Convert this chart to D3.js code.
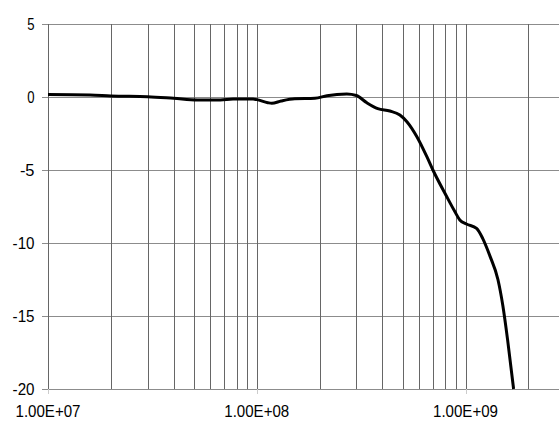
<!DOCTYPE html>
<html>
<head>
<meta charset="utf-8">
<script src="https://cdn.jsdelivr.net/npm/d3@7"></script>
<style>
  html, body { margin: 0; padding: 0; background: #fff; }
  svg { display: block; }
  text { font-family: "Liberation Sans", Arial, sans-serif; fill: #000; }
</style>
</head>
<body>
<div class="myChart"></div>
<script>
// frequency (Hz) and response (dB)
var freqs = [1.0e7, 1.59e7, 2.0e7, 3.0e7, 4.0e7, 5.2e7, 6.7e7, 7.7e7, 9.6e7, 1.0e8,
             1.13e8, 1.18e8, 1.31e8, 1.52e8, 1.9e8, 2.17e8, 2.7e8, 3.0e8, 3.37e8, 3.8e8,
             4.34e8, 4.85e8, 5.24e8, 5.85e8, 6.53e8, 6.98e8, 8.05e8, 8.89e8, 9.39e8, 1.01e9,
             1.13e9, 1.21e9, 1.31e9, 1.43e9, 1.51e9, 1.59e9, 1.70e9];
var gains = [0.17, 0.14, 0.07, 0.02, -0.09, -0.2, -0.2, -0.14, -0.14, -0.18,
             -0.39, -0.43, -0.27, -0.12, -0.09, 0.09, 0.2, 0.1, -0.4, -0.8,
             -0.96, -1.23, -1.69, -2.72, -4.09, -5.0, -6.71, -7.85, -8.42, -8.7,
             -9.0, -9.7, -10.9, -12.5, -14.3, -16.6, -20.0];

var yTicks = [5, 0, -5, -10, -15, -20];
var xLabelTicks = [1e7, 1e8, 1e9];
// minor grid: 1..9 times each decade
var xGridTicks = [];
[1e7, 1e8, 1e9].forEach(dec => {
    for (let m = 1; m <= 9; m++) xGridTicks.push(m * dec);
});

var width = 559;
var height = 421;

var svg = d3.select(".myChart")
    .append("svg")
    .attr("width", width)
    .attr("height", height);

// scales
var x = d3.scaleLog()
    .domain([1e7, 1e9])
    .range([48, 465.5]);
var y = d3.scaleLinear()
    .domain([-20, 5])
    .range([389, 24]);

var xRight = width; // plot is cut off on the right

// horizontal grid
svg.append("g")
    .selectAll("line")
    .data(yTicks)
    .enter()
    .append("line")
    .attr("x1", x(1e7) - 6)
    .attr("x2", xRight)
    .attr("y1", d => y(d) + 0.5)
    .attr("y2", d => y(d) + 0.5)
    .attr("stroke", "#8c8c8c")
    .attr("stroke-width", 1.2);

// vertical grid
svg.append("g")
    .selectAll("line")
    .data(xGridTicks.filter(d => x(d) < xRight))
    .enter()
    .append("line")
    .attr("x1", d => Math.round(x(d)) + 0.5)
    .attr("x2", d => Math.round(x(d)) + 0.5)
    .attr("y1", y(5))
    .attr("y2", y(-20))
    .attr("stroke", "#666")
    .attr("stroke-width", 1);

// small ticks below the x axis
svg.append("g")
    .selectAll("line")
    .data(xLabelTicks)
    .enter()
    .append("line")
    .attr("x1", d => Math.round(x(d)) + 0.5)
    .attr("x2", d => Math.round(x(d)) + 0.5)
    .attr("y1", y(-20))
    .attr("y2", y(-20) + 5)
    .attr("stroke", "#ccc");

// y labels
svg.append("g")
    .selectAll("text")
    .data(yTicks)
    .enter()
    .append("text")
    .attr("x", 34.5)
    .attr("y", d => y(d))
    .attr("dy", "0.36em")
    .attr("text-anchor", "end")
    .attr("font-size", 16)
    .attr("textLength", d => String(d).length * 7.3)
    .attr("lengthAdjust", "spacingAndGlyphs")
    .text(d => d);

// x labels (narrow, like the original)
svg.append("g")
    .selectAll("text")
    .data(xLabelTicks)
    .enter()
    .append("text")
    .attr("x", d => x(d))
    .attr("y", 417)
    .attr("text-anchor", "middle")
    .attr("font-size", 17)
    .attr("textLength", 65)
    .attr("lengthAdjust", "spacingAndGlyphs")
    .text(d => "1.00E+" + String(Math.round(Math.log10(d))).padStart(2, "0"));

// the curve
var line = d3.line()
    .x(d => x(d[0]))
    .y(d => y(d[1]))
    .curve(d3.curveMonotoneX);

svg.append("path")
    .datum(d3.zip(freqs, gains))
    .attr("d", line)
    .attr("fill", "none")
    .attr("stroke", "#000")
    .attr("stroke-width", 3)
    .attr("stroke-linejoin", "round");
</script>
</body>
</html>
